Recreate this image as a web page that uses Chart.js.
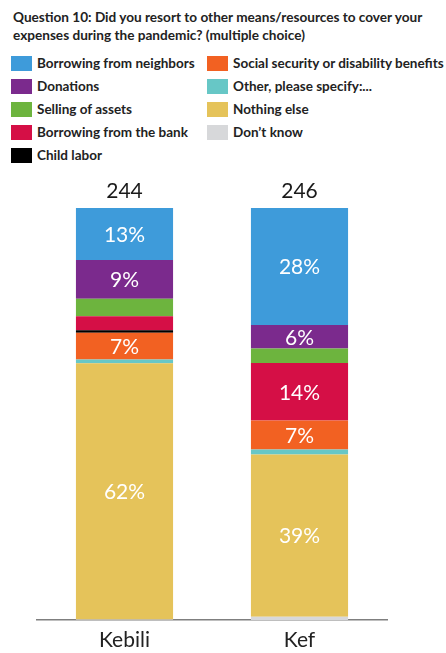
<!DOCTYPE html>
<html>
<head>
<meta charset="utf-8">
<script src="https://cdn.jsdelivr.net/npm/chart.js@4.4.1/dist/chart.umd.min.js"></script>
<style>
  html, body { margin: 0; padding: 0; background: #fff; overflow: hidden; }
  body { width: 446px; height: 653px; position: relative; font-family: Lato, "Open Sans", sans-serif; }
  #chart { position: absolute; left: 0; top: 0; }
  .title { position: absolute; left: 13px; top: 8px; width: 433px; font-weight: bold; font-size: 13.6px; line-height: 18px; color: #222; }
  .legend { position: absolute; left: 11px; top: 56px; }
  .legend .item { position: absolute; white-space: nowrap; font-weight: bold; font-size: 13.5px; color: #222; height: 15px; line-height: 15px; }
  .legend .sw { display: inline-block; width: 21px; height: 15px; vertical-align: top; margin-right: 5px; }
</style>
</head>
<body>
<div class="title">Question 10: Did you resort to other means/resources to cover your expenses during the pandemic? (multiple choice)</div>
<div class="legend" id="legend"></div>
<canvas id="chart" width="446" height="661"></canvas>
<script>
"use strict";

/* ── Data (top of stack first, same as legend order) ── */
const categories = ["Kebili", "Kef"];
const totals = [244, 246];

const seriesNames = [
  "Borrowing from neighbors",
  "Donations",
  "Selling of assets",
  "Borrowing from the bank",
  "Child labor",
  "Social security or disability benefits",
  "Other, please specify:...",
  "Nothing else",
  "Don\u2019t know",
];
const seriesColors = [
  "#3e9bda", "#7b2a8d", "#6db43e", "#d50f46", "#000000",
  "#f26122", "#67c7c6", "#e5c35a", "#d7d8da",
];
// values in % : [Kebili, Kef]
const neighbors   = [12.6, 28.4];
const donations   = [9.4, 5.7];
const selling     = [4.3, 3.5];
const bank        = [3.4, 14];
const childLabor  = [0.6, 0];
const socialSec   = [6.5, 7];
const other       = [0.9, 1.2];
const nothingElse = [62.2, 39.4];
const dontKnow    = [0.1, 0.8];
const seriesValues = [neighbors, donations, selling, bank, childLabor, socialSec, other, nothingElse, dontKnow];

/* ── HTML legend: two columns ── */
const legendEl = document.getElementById("legend");
seriesNames.forEach((name, i) => {
  const col = i < 5 ? 0 : 1;
  const row = i < 5 ? i : i - 5;
  const d = document.createElement("div");
  d.className = "item";
  d.style.left = (col * 196) + "px";
  d.style.top = (row * 23) + "px";
  d.innerHTML = `<span class="sw" style="background:${seriesColors[i]}"></span>${name}`;
  legendEl.appendChild(d);
});

/* ── Labels plugin: % inside segments, totals on top ── */
const labelPlugin = {
  id: "segLabels",
  afterDatasetsDraw(chart) {
    const ctx = chart.ctx;
    ctx.save();
    ctx.textAlign = "center";
    ctx.textBaseline = "middle";
    ctx.font = "21px Lato";
    chart.data.datasets.forEach((ds, di) => {
      const meta = chart.getDatasetMeta(di);
      meta.data.forEach((bar, i) => {
        const v = ds.data[i];
        if (v < 5) return;
        ctx.fillStyle = "#ffffff";
        ctx.fillText(Math.round(v) + "%", bar.x, (bar.y + bar.base) / 2 + 1);
      });
    });
    const topMeta = chart.getDatasetMeta(chart.data.datasets.length - 1);
    ctx.fillStyle = "#1a1a1a";
    topMeta.data.forEach((bar, i) => {
      ctx.fillText(String(totals[i]), bar.x, bar.y - 17);
    });
    ctx.restore();
  },
};

// bottom of stack first for Chart.js
const datasets = seriesNames.map((name, i) => ({
  label: name,
  data: seriesValues[i],
  backgroundColor: seriesColors[i],
  borderWidth: 0,
})).reverse();

new Chart(document.getElementById("chart"), {
  type: "bar",
  data: { labels: categories, datasets },
  options: {
    responsive: false,
    animation: false,
    layout: { padding: { left: 37, right: 59, top: 208, bottom: 0 } },
    datasets: { bar: { categoryPercentage: 1, barPercentage: 0.555 } },
    plugins: { legend: { display: false }, tooltip: { enabled: false } },
    scales: {
      x: {
        stacked: true,
        grid: { display: false, drawTicks: false },
        border: { display: true, color: "#7f7f7f", width: 1.5 },
        ticks: { padding: 10, color: "#222", font: { family: "Lato", size: 21, lineHeight: 1 } },
      },
      y: { stacked: true, display: false, min: 0, max: 100 },
    },
  },
  plugins: [labelPlugin],
});
</script>
</body>
</html>
